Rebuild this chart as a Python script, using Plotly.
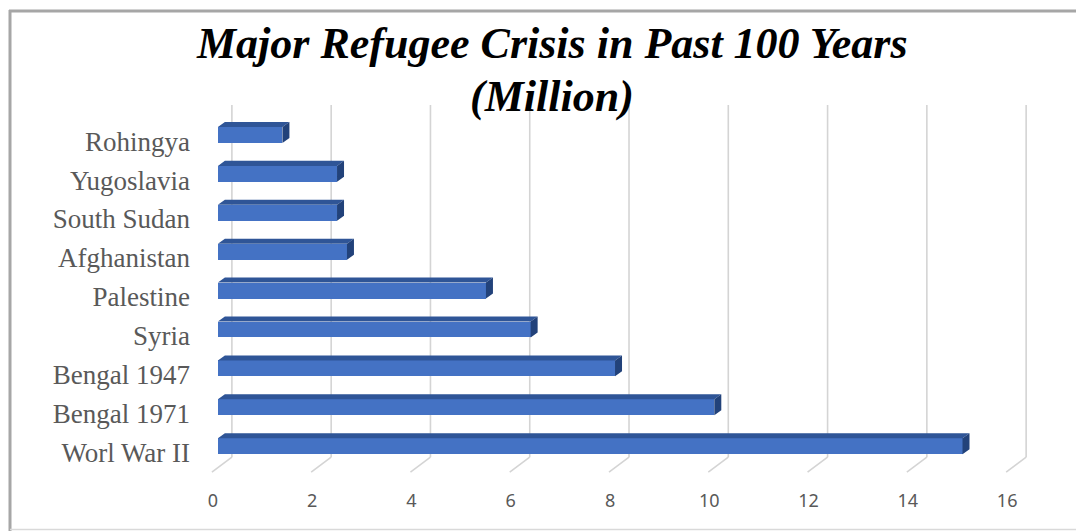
import plotly.graph_objects as go

# ---- data (bottom to top) ----
categories = ["Worl War II", "Bengal 1971", "Bengal 1947", "Syria", "Palestine",
              "Afghanistan", "South Sudan", "Yugoslavia", "Rohingya"]
values = [15.0, 10.0, 8.0, 6.3, 5.4, 2.6, 2.4, 2.4, 1.3]
x_ticks = [0, 2, 4, 6, 8, 10, 12, 14, 16]
title_lines = ["Major Refugee Crisis in Past 100 Years", "(Million)"]

# ---- styling / geometry ----
W, H = 1076, 531
ML, MR, MT, MB = 203, 44, 105, 56
XR = [-0.3, 16.4]
YR = [-0.74, 8.77]
BAR_H = 0.41          # bar front-face thickness (category units)
DX, DY = 0.141, 0.129  # bar depth offset (data units)
FRONT_DX, FRONT_Y = -0.121, -0.668   # floor front edge
BACK_DX, BACK_Y = 0.282, -0.283      # back wall
FRONT_C, TOP_C, SIDE_C = "#4472C4", "#2F5597", "#22427a"
GRID_C = "#d4d4d4"

ypos = list(range(len(categories)))

fig = go.Figure()

# front faces
fig.add_trace(go.Bar(x=values, y=ypos, orientation="h", width=BAR_H, base=0,
                     marker=dict(color=FRONT_C, line=dict(width=0)),
                     hoverinfo="skip", showlegend=False))

# top and side faces
tx, ty, sx, sy = [], [], [], []
for v, y in zip(values, ypos):
    t = y + BAR_H / 2
    b = y - BAR_H / 2
    tx += [0, v, v + DX, DX, 0, None]
    ty += [t, t, t + DY, t + DY, t, None]
    sx += [v, v, v + DX, v + DX, v, None]
    sy += [b, t, t + DY, b + DY, b, None]
fig.add_trace(go.Scatter(x=tx, y=ty, fill="toself", fillcolor=TOP_C, mode="lines",
                         line=dict(width=0, color=TOP_C), hoverinfo="skip", showlegend=False))
fig.add_trace(go.Scatter(x=sx, y=sy, fill="toself", fillcolor=SIDE_C, mode="lines",
                         line=dict(width=0, color=SIDE_C), hoverinfo="skip", showlegend=False))

# gridlines (back wall + floor diagonals)
shapes = []
for v in x_ticks:
    shapes.append(dict(type="line", xref="x", yref="y", layer="below",
                       x0=v + BACK_DX, x1=v + BACK_DX, y0=BACK_Y, y1=YR[1],
                       line=dict(color=GRID_C, width=1.6)))
    shapes.append(dict(type="line", xref="x", yref="y", layer="below",
                       x0=v + FRONT_DX, x1=v + BACK_DX, y0=FRONT_Y, y1=BACK_Y,
                       line=dict(color=GRID_C, width=1.6)))

# chart border (pixel -> paper)
pw, ph = W - ML - MR, H - MT - MB
def px(xp): return (xp - ML) / pw
def py(yp): return (H - MB - yp) / ph
shapes.append(dict(type="line", xref="paper", yref="paper", x0=px(9), x1=px(1090),
                   y0=py(11), y1=py(11), line=dict(color="#a6a6a6", width=3)))
shapes.append(dict(type="line", xref="paper", yref="paper", x0=px(10), x1=px(10),
                   y0=py(10), y1=py(540), line=dict(color="#a6a6a6", width=3)))
shapes.append(dict(type="line", xref="paper", yref="paper", x0=px(10), x1=px(1090),
                   y0=py(529.5), y1=py(529.5), line=dict(color="#d9d9d9", width=1.5)))

annotations = []
for line, ycen in zip(title_lines, [44, 96]):
    annotations.append(dict(text="<b><i>" + line + "</i></b>", xref="paper", yref="paper",
                            x=px(552), y=py(ycen), xanchor="center", yanchor="middle",
                            showarrow=False,
                            font=dict(family="Liberation Serif", size=44, color="black")))

fig.update_layout(
    width=W, height=H, autosize=False,
    margin=dict(l=ML, r=MR, t=MT, b=MB, pad=0),
    paper_bgcolor="white", plot_bgcolor="white",
    shapes=shapes, annotations=annotations,
    xaxis=dict(range=XR, showgrid=False, zeroline=False, showline=False,
               tickmode="array", tickvals=x_ticks, ticks="",
               ticklabelshift=-5, ticklabelstandoff=13,
               tickfont=dict(family="Noto Sans", size=18, color="#595959")),
    yaxis=dict(range=YR, showgrid=False, zeroline=False, showline=False,
               tickmode="array", tickvals=[y - 0.16 for y in ypos], ticktext=categories,
               ticks="", ticklabelstandoff=12,
               tickfont=dict(family="Liberation Serif", size=27, color="#595959")),
    bargap=0,
)

fig.write_html("out.html")
